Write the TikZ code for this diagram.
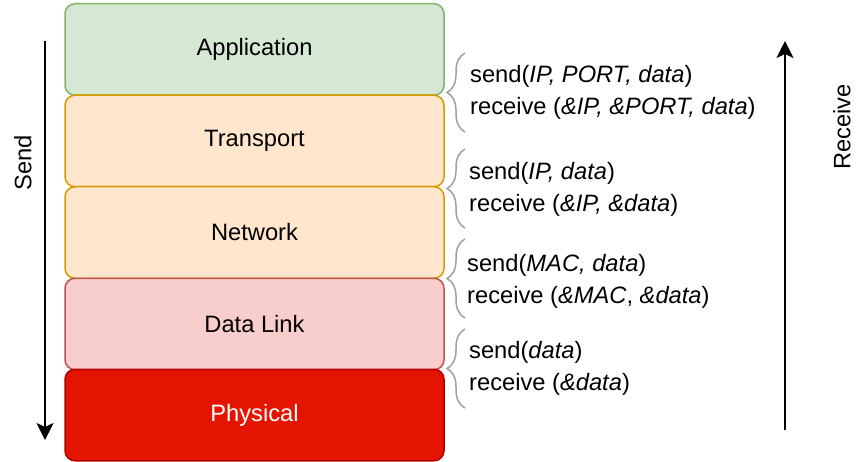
\documentclass[tikz,border=0pt]{standalone}
\usepackage{fontspec}
\setmainfont{Liberation Sans}
\usetikzlibrary{arrows.meta,decorations.pathreplacing}

\definecolor{appfill}{HTML}{D5E8D4}
\definecolor{appline}{HTML}{82B366}
\definecolor{netfill}{HTML}{FFE6CC}
\definecolor{netline}{HTML}{D79B00}
\definecolor{linkfill}{HTML}{F8CECC}
\definecolor{linkline}{HTML}{B85450}
\definecolor{phyfill}{HTML}{E51400}
\definecolor{phyline}{HTML}{B20000}
\definecolor{bracegray}{HTML}{A0A0A0}

\begin{document}
\begin{tikzpicture}[x=1pt,y=-1pt,
    every node/.style={font=\fontsize{23.7}{32}\selectfont},
    layer/.style={draw,rounded corners=10pt,line width=1.5pt,minimum width=379pt,minimum height=91.5pt,inner sep=0pt},
    calls/.style={align=left,anchor=west,inner sep=0pt},
    curly/.style={draw=bracegray,line width=1.5pt,decorate,decoration={brace,amplitude=18pt}},
    flow/.style={line width=1.5pt,-{Stealth[length=17pt,width=17pt,inset=4pt]}}]
    \useasboundingbox (0,0) rectangle (856,462);
    % the five layers
    \node [layer,fill=appfill,draw=appline] (app) at (254.5,49.5) {Application};
    \node [layer,fill=netfill,draw=netline] (trans) at (254.5,141) {Transport};
    \node [layer,fill=netfill,draw=netline] (net) at (254.5,232.5) {Network};
    \node [layer,fill=linkfill,draw=linkline] (link) at (254.5,324) {Data Link};
    \node [layer,fill=phyfill,draw=phyline,text=white] (phy) at (254.5,415) {Physical};
    % send / receive
    \coordinate (sendtop) at (45,41);
    \coordinate (sendbot) at (45,440);
    \coordinate (recvbot) at (785,430);
    \coordinate (recvtop) at (785,41);
    \draw [flow] (sendtop) -- (sendbot);
    \draw [flow] (recvbot) -- (recvtop);
    \node [rotate=90] (sendlbl) at (23,163) {Send};
    \node [rotate=90] (recvlbl) at (842,127) {Receive};
    % calls between layers
    \draw [curly] (465,132) -- (465,53);
    \node [calls] (tcall) at (470,92) {send(\textit{IP, PORT, data})\\receive (\textit{\&IP, \&PORT, data})};
    \draw [curly] (465,228) -- (465,149);
    \node [calls] (ncall) at (469,189.5) {send(\textit{IP, data})\\receive (\textit{\&IP, \&data})};
    \draw [curly] (465,318) -- (465,239);
    \node [calls] (lcall) at (467,281) {send(\textit{MAC, data})\\receive (\textit{\&MAC}, \textit{\&data})};
    \draw [curly] (465,408) -- (465,329);
    \node [calls] (pcall) at (469,368) {send(\textit{data})\\receive (\textit{\&data})};
\end{tikzpicture}
\end{document}
